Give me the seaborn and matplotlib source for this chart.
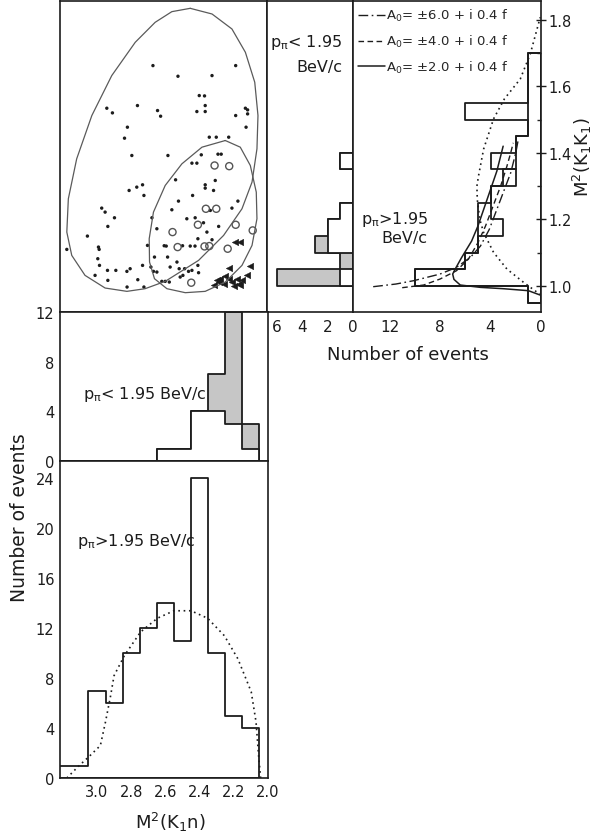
import numpy as np
import matplotlib
matplotlib.use("Agg")
import matplotlib.pyplot as plt
from matplotlib.ticker import FixedLocator, FixedFormatter
import seaborn as sns

sns.set_style("white")
plt.rcParams["font.family"] = ["DejaVu Sans"]
plt.rcParams["mathtext.default"] = "regular"

INK = "#1c1c1c"
SHADE = "#c6c6c6"
TICK_FS = 10.5

# ---------------- data ----------------
# M^2(K1 n) histograms (bin edges ascending, BeV^2)
kn_edges = [2.05, 2.15, 2.25, 2.35, 2.45, 2.55, 2.65, 2.75, 2.85, 2.95, 3.05, 3.15, 3.25]
kn_hi_counts = [4, 5, 10, 24, 11, 14, 12, 10, 6, 7, 1, 1]          # p_pi > 1.95
kn_lo_open = [1, 3, 4, 4, 1, 1, 0, 0, 0, 0, 0, 0]                  # p_pi < 1.95 (open)
kn_lo_shaded = [2, 9, 3, 0, 0, 0, 0, 0, 0, 0, 0, 0]                # p_pi < 1.95 (shaded)

# phase-space curve for M^2(K1 n), p_pi > 1.95
ps_kn_x = [3.176, 3.108, 3.04, 2.98, 2.95, 2.92, 2.90, 2.84, 2.745, 2.647, 2.55, 2.45,
           2.353, 2.255, 2.176, 2.098, 2.07, 2.055, 2.043]
ps_kn_y = [0.0, 0.94, 1.8, 2.6, 4.5, 6.6, 8.2, 9.8, 11.7, 12.8, 13.4, 13.4,
           12.8, 11.4, 9.55, 6.9, 4.5, 1.8, 0.0]

# M^2(K1 K1) histograms
kk_lo_edges = [1.00, 1.05, 1.10, 1.15, 1.20, 1.25, 1.30, 1.35, 1.40]
kk_lo_open = [1, 0, 2, 2, 1, 0, 0, 1]
kk_lo_shaded = [5, 1, 1, 0, 0, 0, 0, 0]

kk_hi_edges = [0.95, 1.00, 1.05, 1.10, 1.15, 1.20, 1.25, 1.30, 1.35, 1.40, 1.45, 1.50,
               1.55, 1.60, 1.65, 1.70]
kk_hi_a = [1, 10, 6, 5, 5, 5, 4, 2, 4, 2, 1, 6, 1, 1, 1]
kk_hi_b = [1, 10, 6, 5, 3, 4, 4, 3, 2, 2, 1, 1, 1, 1, 1]

# fitted curves (counts, M^2(K1K1))
c6_n = [13.3, 11.5, 10.1, 8.0, 6.7, 5.6, 4.8, 4.1, 3.5, 3.0, 2.4, 2.0, 1.8]
c6_m = [0.998, 1.006, 1.016, 1.036, 1.056, 1.086, 1.12, 1.17, 1.23, 1.28, 1.34, 1.40, 1.44]
c4_n = [11.0, 9.3, 8.0, 6.7, 5.75, 5.0, 4.4, 3.8, 3.2, 2.7, 2.4, 2.2]
c4_m = [0.995, 1.003, 1.021, 1.046, 1.081, 1.13, 1.18, 1.24, 1.30, 1.36, 1.40, 1.43]
c2_n = [0.0, 1.0, 3.0, 4.8, 6.4, 6.9, 7.0, 6.8, 6.3, 5.5, 5.0, 4.5, 4.0, 3.5, 3.0]
c2_m = [0.972, 0.986, 0.992, 0.996, 1.003, 1.020, 1.036, 1.051, 1.085, 1.135, 1.18,
        1.235, 1.29, 1.345, 1.42]
ps_kk_n = [0.0, 0.3, 1.38, 2.7, 3.76, 4.55, 4.85, 5.05, 5.08, 4.95, 4.55, 3.76, 2.9,
           1.64, 0.85, 0.06]
ps_kk_m = [0.975, 0.981, 1.011, 1.051, 1.101, 1.161, 1.20, 1.26, 1.30, 1.331, 1.411,
           1.502, 1.562, 1.622, 1.697, 1.807]
legend_labels = [r"A$_0$= $\pm$6.0 + i 0.4 f", r"A$_0$= $\pm$4.0 + i 0.4 f",
                 r"A$_0$= $\pm$2.0 + i 0.4 f"]

# Dalitz plot events (M^2(K1 n), M^2(K1 K1))
dot_kn = [2.670, 2.523, 2.323, 2.184, 2.941, 2.908, 2.761, 2.643, 2.625, 2.398,
          2.367, 2.363, 2.412, 2.363, 2.184, 2.127, 2.114, 2.114, 2.820, 2.837,
          2.123, 2.339, 2.298, 2.225, 2.794, 2.582, 2.386, 2.288, 2.269, 2.441,
          2.412, 2.810, 2.765, 2.731, 2.723, 2.537, 2.363, 2.363, 2.304, 2.314,
          2.437, 2.171, 2.971, 2.951, 2.896, 2.935, 2.520, 2.559, 2.676, 2.471,
          2.422, 2.206, 2.333, 2.373, 2.284, 3.055, 2.647, 2.990, 2.986, 3.176,
          2.994, 2.984, 2.702, 2.604, 2.592, 2.496, 2.451, 2.423, 2.406, 2.353,
          2.323, 2.661, 2.584, 2.529, 2.569, 2.516, 2.484, 2.461, 2.441, 2.406,
          2.402, 2.682, 2.667, 2.647, 2.804, 2.823, 2.731, 3.010, 2.937, 2.935,
          2.888, 2.759, 2.618, 2.598, 2.574, 2.822, 2.723, 2.510, 2.494]
dot_kk = [1.662, 1.630, 1.632, 1.662, 1.534, 1.520, 1.542, 1.527, 1.510, 1.572,
          1.571, 1.542, 1.524, 1.524, 1.512, 1.534, 1.529, 1.517, 1.477, 1.444,
          1.477, 1.447, 1.447, 1.447, 1.392, 1.392, 1.394, 1.396, 1.396, 1.369,
          1.369, 1.287, 1.297, 1.304, 1.272, 1.319, 1.304, 1.294, 1.317, 1.287,
          1.272, 1.255, 1.234, 1.222, 1.205, 1.179, 1.255, 1.229, 1.205, 1.202,
          1.205, 1.234, 1.227, 1.190, 1.179, 1.150, 1.172, 1.117, 1.110, 1.110,
          1.082, 1.062, 1.122, 1.121, 1.120, 1.121, 1.120, 1.120, 1.142, 1.162,
          1.139, 1.087, 1.087, 1.072, 1.057, 1.052, 1.052, 1.044, 1.047, 1.062,
          1.040, 1.057, 1.044, 1.042, 1.052, 1.044, 1.062, 1.032, 1.047, 1.017,
          1.047, 1.019, 1.014, 1.014, 1.012, 0.997, 0.997, 1.027, 1.032]
circ_kn = [2.308, 2.222, 2.359, 2.298, 2.406, 2.184, 2.084, 2.555, 2.525, 2.367, 2.339, 2.231, 2.445]
circ_kk = [1.362, 1.360, 1.232, 1.232, 1.184, 1.184, 1.167, 1.162, 1.117, 1.119, 1.120, 1.112, 1.010]
tri_kn = [2.186, 2.157, 2.225, 2.102, 2.118, 2.314, 2.294, 2.274, 2.245, 2.225, 2.206,
          2.176, 2.167, 2.157, 2.196, 2.255, 2.284, 2.147]
tri_kk = [1.132, 1.132, 1.055, 1.059, 1.032, 1.004, 1.017, 1.022, 1.030, 1.022, 1.012,
          1.022, 1.007, 1.002, 1.000, 1.007, 1.012, 1.017]

# kinematic boundaries
big_kn = [2.451, 2.323, 2.206, 2.127, 2.072, 2.053, 2.059, 2.088, 2.147, 2.255, 2.402,
          2.598, 2.716, 2.823, 2.951, 3.069, 3.147, 3.176, 3.167, 3.118, 3.029, 2.912,
          2.774, 2.657, 2.559, 2.451]
big_kk = [1.834, 1.817, 1.772, 1.702, 1.612, 1.512, 1.412, 1.312, 1.232, 1.152, 1.077,
          1.014, 0.992, 0.984, 0.994, 1.032, 1.092, 1.162, 1.262, 1.382, 1.512, 1.632,
          1.732, 1.792, 1.824, 1.834]
small_kn = [2.245, 2.157, 2.098, 2.063, 2.059, 2.088, 2.147, 2.245, 2.363, 2.480, 2.588,
            2.661, 2.690, 2.692, 2.667, 2.598, 2.500, 2.382, 2.245]
small_kk = [1.437, 1.417, 1.362, 1.282, 1.202, 1.122, 1.062, 1.012, 0.984, 0.980, 0.992,
            1.022, 1.072, 1.142, 1.222, 1.302, 1.367, 1.417, 1.437]

# ---------------- figure ----------------
W, H = 600, 837
fig = plt.figure(figsize=(W / 100, H / 100), dpi=100)


def box(x0, y0, x1, y1):
    return [x0 / W, 1 - y1 / H, (x1 - x0) / W, (y1 - y0) / H]


ax_sc = fig.add_axes(box(60, 2, 267, 313))
ax_mid = fig.add_axes(box(267, 2, 353, 313))
ax_rt = fig.add_axes(box(353, 2, 541, 313))
ax_lt = fig.add_axes(box(60, 313, 268, 462))
ax_lb = fig.add_axes(box(60, 462, 268, 779))

KN_LIM = (3.216, 2.0)
KK_LIM = (0.922, 1.856)

kn_c = (np.array(kn_edges[:-1]) + np.array(kn_edges[1:])) / 2
kkl_c = (np.array(kk_lo_edges[:-1]) + np.array(kk_lo_edges[1:])) / 2
kkh_c = (np.array(kk_hi_edges[:-1]) + np.array(kk_hi_edges[1:])) / 2

hist_kw = dict(element="step", fill=True, color=INK, edgecolor=INK, linewidth=1.3)

# --- Dalitz plot ---
sns.lineplot(x=big_kn, y=big_kk, sort=False, estimator=None, color="#5a5a5a", lw=0.9, ax=ax_sc)
sns.lineplot(x=small_kn, y=small_kk, sort=False, estimator=None, color="#5a5a5a", lw=0.9, ax=ax_sc)
sns.scatterplot(x=dot_kn, y=dot_kk, s=6, color=INK, edgecolor="none", ax=ax_sc)
sns.scatterplot(x=circ_kn, y=circ_kk, s=26, marker="o", fc="none", ec="#555555",
                linewidth=1.0, ax=ax_sc)
sns.scatterplot(x=tri_kn, y=tri_kk, s=22, marker="<", color=INK, edgecolor=INK,
                linewidth=0.3, ax=ax_sc)
ax_sc.set_xlim(*KN_LIM)
ax_sc.set_ylim(*KK_LIM)
ax_sc.set_xticks([])
ax_sc.set_yticks([])

# --- middle: p < 1.95, M^2(K1K1) ---
sns.histplot(y=kkl_c, weights=np.add(kk_lo_open, kk_lo_shaded), bins=kk_lo_edges,
             facecolor=SHADE, ax=ax_mid, **hist_kw)
sns.histplot(y=kkl_c, weights=kk_lo_open, bins=kk_lo_edges, facecolor="white",
             ax=ax_mid, **hist_kw)
ax_mid.set_xlim(6.8, 0)
ax_mid.set_ylim(*KK_LIM)
ax_mid.set_yticks([])
ax_mid.xaxis.set_major_locator(FixedLocator([0, 2, 4, 6]))
ax_mid.tick_params(axis="x", direction="in", length=4.5, width=1, labelsize=TICK_FS + 0.5,
                   pad=5, colors=INK)
ax_mid.text(0.875, 0.87, r"p$_{\pi}$< 1.95", transform=ax_mid.transAxes, ha="right",
            va="center", fontsize=11.5, color=INK)
ax_mid.text(0.875, 0.79, "BeV/c", transform=ax_mid.transAxes, ha="right",
            va="center", fontsize=11.5, color=INK)

# --- right: p > 1.95, M^2(K1K1) ---
sns.histplot(y=kkh_c, weights=kk_hi_a, bins=kk_hi_edges, facecolor="none", ax=ax_rt, **hist_kw)
sns.histplot(y=kkh_c, weights=kk_hi_b, bins=kk_hi_edges, facecolor="none", ax=ax_rt, **hist_kw)
sns.lineplot(x=ps_kk_n, y=ps_kk_m, sort=False, estimator=None, color=INK, lw=1.2,
             linestyle=(0, (1, 2.2)), ax=ax_rt)
sns.lineplot(x=c6_n, y=c6_m, sort=False, estimator=None, color=INK, lw=1.0,
             linestyle=(0, (7, 2.5, 1.2, 2.5)), ax=ax_rt)
h6 = ax_rt.lines[-1]
sns.lineplot(x=c4_n, y=c4_m, sort=False, estimator=None, color=INK, lw=1.0,
             linestyle=(0, (4, 2.5)), ax=ax_rt)
h4 = ax_rt.lines[-1]
sns.lineplot(x=c2_n, y=c2_m, sort=False, estimator=None, color=INK, lw=1.1, ax=ax_rt)
h2 = ax_rt.lines[-1]
ax_rt.set_xlim(14.9, 0)
ax_rt.set_ylim(*KK_LIM)
ax_rt.xaxis.set_major_locator(FixedLocator([0, 4, 8, 12]))
ax_rt.xaxis.set_minor_locator(FixedLocator([2, 6, 10, 14]))
ax_rt.tick_params(axis="x", which="both", direction="in", length=4.5, width=1,
                  labelsize=TICK_FS + 0.5, pad=5, colors=INK)
ax_rt.yaxis.tick_right()
ax_rt.yaxis.set_major_locator(FixedLocator([1.0, 1.2, 1.4, 1.6, 1.8]))
ax_rt.yaxis.set_major_formatter(FixedFormatter(["1.0", "1.2", "1.4", "1.6", "1.8"]))
ax_rt.yaxis.set_minor_locator(FixedLocator([1.1, 1.3, 1.5, 1.7]))
ax_rt.tick_params(axis="y", which="major", direction="inout", length=7, width=1,
                  labelsize=TICK_FS, pad=1.5, colors=INK)
ax_rt.tick_params(axis="y", which="minor", direction="in", length=3, width=1)
ax_rt.legend([h6, h4, h2], legend_labels, loc="upper left", bbox_to_anchor=(-0.02, 1.01),
             frameon=False, fontsize=9.5, handlelength=2.0, handletextpad=0.1,
             labelspacing=0.75, borderaxespad=0.3)
ax_rt.text(0.045, 0.30, r"p$_{\pi}$>1.95", transform=ax_rt.transAxes, ha="left",
           va="center", fontsize=11.5, color=INK)
ax_rt.text(0.15, 0.24, "BeV/c", transform=ax_rt.transAxes, ha="left",
           va="center", fontsize=11.5, color=INK)

# --- lower top: p < 1.95, M^2(K1 n) ---
sns.histplot(x=kn_c, weights=np.add(kn_lo_open, kn_lo_shaded), bins=kn_edges,
             facecolor=SHADE, ax=ax_lt, **hist_kw)
sns.histplot(x=kn_c, weights=kn_lo_open, bins=kn_edges, facecolor="white", ax=ax_lt, **hist_kw)
ax_lt.set_xlim(*KN_LIM)
ax_lt.set_ylim(0, 12)
ax_lt.set_xticks([])
ax_lt.yaxis.set_major_locator(FixedLocator([0, 4, 8, 12]))
ax_lt.yaxis.set_minor_locator(FixedLocator([2, 6, 10]))
ax_lt.tick_params(axis="y", which="both", direction="in", length=4.5, width=1,
                  labelsize=TICK_FS, pad=4, colors=INK)
ax_lt.text(0.11, 0.45, r"p$_{\pi}$< 1.95 BeV/c", transform=ax_lt.transAxes, ha="left",
           va="center", fontsize=11.5, color=INK)

# --- lower bottom: p > 1.95, M^2(K1 n) ---
sns.histplot(x=kn_c, weights=kn_hi_counts, bins=kn_edges, facecolor="none", ax=ax_lb, **hist_kw)
sns.lineplot(x=ps_kn_x, y=ps_kn_y, sort=False, estimator=None, color=INK, lw=1.2,
             linestyle=(0, (1, 2.2)), ax=ax_lb)
ax_lb.set_xlim(*KN_LIM)
ax_lb.set_ylim(0, 25.4)
ax_lb.yaxis.set_major_locator(FixedLocator([0, 4, 8, 12, 16, 20, 24]))
ax_lb.yaxis.set_minor_locator(FixedLocator([2, 6, 10, 14, 18, 22]))
ax_lb.xaxis.set_major_locator(FixedLocator([3.0, 2.8, 2.6, 2.4, 2.2, 2.0]))
ax_lb.xaxis.set_major_formatter(FixedFormatter(["3.0", "2.8", "2.6", "2.4", "2.2", "2.0"]))
ax_lb.tick_params(axis="both", which="both", direction="in", length=4.5, width=1,
                  labelsize=TICK_FS, pad=4, colors=INK)
ax_lb.text(0.08, 0.75, r"p$_{\pi}$>1.95 BeV/c", transform=ax_lb.transAxes, ha="left",
           va="center", fontsize=11.5, color=INK)

for ax in (ax_sc, ax_mid, ax_rt, ax_lt, ax_lb):
    ax.set_xlabel("")
    ax.set_ylabel("")
    for sp in ax.spines.values():
        sp.set_color(INK)
        sp.set_linewidth(1.2)
    leg = ax.get_legend()
    if leg is not None and ax is not ax_rt:
        leg.remove()

fig.text(408 / W, 1 - 355 / H, "Number of events", ha="center", va="center",
         fontsize=13, color=INK)
fig.text(20 / W, 1 - 518 / H, "Number of events", ha="center", va="center",
         rotation=90, fontsize=13.5, color=INK)
fig.text(170 / W, 1 - 822 / H, r"M$^2$(K$_1$n)", ha="center", va="center",
         fontsize=13, color=INK)
fig.text(582 / W, 1 - 157 / H, r"M$^2$(K$_1$K$_1$)", ha="center", va="center",
         rotation=90, fontsize=13, color=INK)

fig.savefig("out.png", dpi=100, facecolor="white")
